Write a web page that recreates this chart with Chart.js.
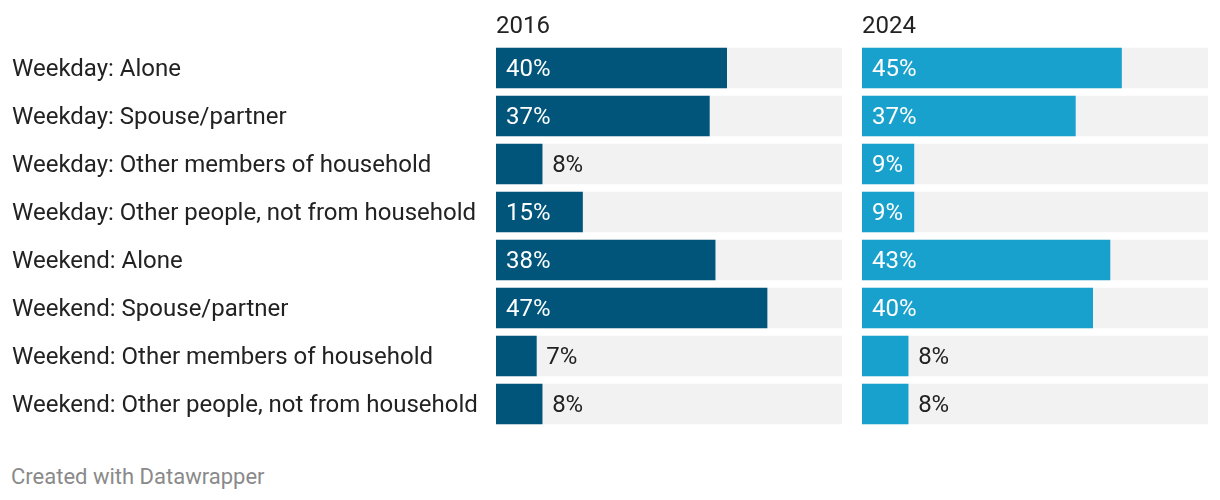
<!DOCTYPE html>
<html>
<head>
<meta charset="utf-8">
<script src="https://cdn.jsdelivr.net/npm/chart.js@4/dist/chart.umd.min.js"></script>
<style>
  html, body { margin: 0; padding: 0; background: #fff; }
  body { width: 1220px; height: 500px; position: relative; overflow: hidden; font-family: Roboto, sans-serif; }
  .panel { position: absolute; top: 0; height: 440px; }
  #p1 { left: 0; width: 842px; }
  #p2 { left: 862px; width: 358px; }
  #footer { position: absolute; left: 11px; top: 463px; font-size: 22px; line-height: 28px; color: #8a8a8a; font-family: Roboto, sans-serif; }
</style>
</head>
<body>
<div class="panel" id="p1"><canvas id="c1"></canvas></div>
<div class="panel" id="p2"><canvas id="c2"></canvas></div>
<div id="footer">Created with Datawrapper</div>
<script>
const categories = [
  "Weekday: Alone",
  "Weekday: Spouse/partner",
  "Weekday: Other members of household",
  "Weekday: Other people, not from household",
  "Weekend: Alone",
  "Weekend: Spouse/partner",
  "Weekend: Other members of household",
  "Weekend: Other people, not from household"
];
const years = ["2016", "2024"];
const values2016 = [40, 37, 8, 15, 38, 47, 7, 8];
const values2024 = [45, 37, 9, 9, 43, 40, 8, 8];
const AXIS_MAX = 60;

const FONT = "Roboto, sans-serif";
const FSIZE = 24;

const valueLabels = {
  id: 'valueLabels',
  afterDatasetsDraw(chart) {
    const ctx = chart.ctx;
    const meta = chart.getDatasetMeta(0);
    const data = chart.data.datasets[0].data;
    ctx.save();
    ctx.font = FSIZE + "px " + FONT;
    ctx.textBaseline = 'middle';
    ctx.textAlign = 'left';
    meta.data.forEach((bar, i) => {
      const txt = data[i] + '%';
      const w = ctx.measureText(txt).width;
      const barW = bar.x - bar.base;
      if (barW > w + 18) {
        ctx.fillStyle = '#ffffff';
        ctx.fillText(txt, bar.base + 10, bar.y + 2);
      } else {
        ctx.fillStyle = '#222222';
        ctx.fillText(txt, bar.x + 10, bar.y + 2);
      }
    });
    ctx.restore();
  }
};

function makeChart(id, values, title, color, showLabels) {
  return new Chart(document.getElementById(id), {
    type: 'bar',
    data: {
      labels: categories,
      datasets: [
        { data: values, backgroundColor: color, grouped: false, barThickness: 40, borderWidth: 0 },
        { data: categories.map(() => AXIS_MAX), backgroundColor: '#f2f2f2', grouped: false, barThickness: 40, borderWidth: 0 }
      ]
    },
    options: {
      indexAxis: 'y',
      responsive: true,
      maintainAspectRatio: false,
      animation: false,
      events: [],
      layout: { padding: { left: showLabels ? 12 : 0, right: showLabels ? 0 : 12, top: 0, bottom: 12 } },
      plugins: { legend: { display: false }, tooltip: { enabled: false }, title: { display: false } },
      scales: {
        x: {
          position: 'top',
          min: 0, max: AXIS_MAX,
          grid: { display: false },
          border: { display: false },
          ticks: { display: false },
          title: {
            display: true, text: title, align: 'start', color: '#222222',
            font: { family: FONT, size: FSIZE, lineHeight: 1.2 },
            padding: { top: 13, bottom: 0 }
          },
          afterFit(scale) { scale.height = 44; scale.paddingLeft = 0; scale.paddingRight = 0; }
        },
        y: {
          display: showLabels,
          offset: true,
          grid: { display: false },
          border: { display: false },
          ticks: {
            crossAlign: 'far',
            color: '#222222',
            font: { family: FONT, size: FSIZE },
            padding: 0,
            labelOffset: 2
          },
          afterFit(scale) {
            if (showLabels) scale.width = 484;
            scale.paddingTop = 0;
            scale.paddingBottom = 0;
          }
        }
      }
    },
    plugins: [valueLabels]
  });
}

makeChart('c1', values2016, years[0], '#01547a', true);
makeChart('c2', values2024, years[1], '#18a1cd', false);
</script>
</body>
</html>
